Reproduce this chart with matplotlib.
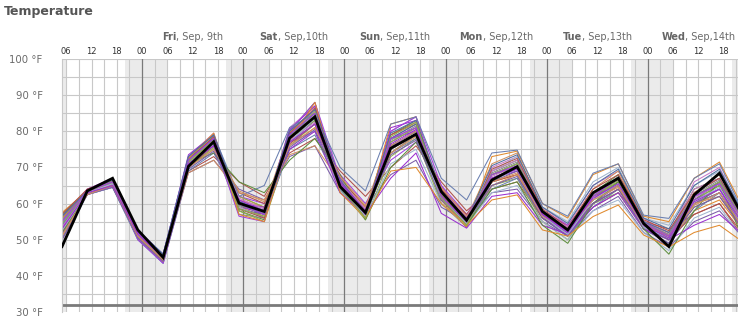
import matplotlib
matplotlib.use("Agg")
import matplotlib.pyplot as plt
import matplotlib.transforms as mtransforms
from matplotlib.offsetbox import TextArea, HPacker, AnnotationBbox

# Forecast hours counted from Thu Sep 8, 00:00 local time (6-hourly runs)
hours = [5 + 6 * k for k in range(28)]

# Main (bold) forecast line, °F
main_run = [48.1, 63.5, 67.0, 52.7, 45.1, 70.3, 77.1, 60.1, 57.8, 78.1, 84.0, 64.7, 57.5, 75.3,
            79.2, 63.3, 55.4, 66.5, 70.2, 57.8, 52.7, 63.0, 67.0, 54.5, 48.1, 62.4, 68.4, 55.6]

# Ensemble members, °F
members = [
    [56, 63.5, 66, 51, 44.5, 72, 78, 59, 56, 79, 86, 65, 56, 78, 82, 62, 54, 67, 69, 56, 51, 61, 66, 54, 50, 62, 65, 54],
    [54, 63, 65.5, 51.5, 45, 71, 76, 61, 58, 77, 83, 66, 57, 76, 80, 63, 55, 68, 71, 57, 52, 60, 64, 55, 51, 60, 63, 53],
    [57, 63.5, 66.5, 50.5, 44, 72.5, 79, 58, 55.5, 80, 88, 64, 56, 79, 83, 61, 53.5, 69, 72, 58, 53, 63, 68, 55, 52, 64, 67, 55],
    [52, 62.5, 65, 52, 45.5, 70, 75, 62, 59, 76, 81, 67, 58, 74, 79, 64, 56, 66, 68, 57, 54, 62, 65, 54, 50, 58, 61, 52],
    [50, 63, 65, 51, 44, 69, 73, 66, 62, 74, 78, 69, 62, 70, 76, 66, 58, 64, 66, 56, 52, 59, 63, 55, 53, 57, 60, 51],
    [55, 64, 66.5, 52.5, 46, 73, 79.5, 60, 57, 81, 87, 66, 57, 80, 84, 62, 54, 70, 73, 59, 54, 65, 69, 56, 51, 66, 70, 56],
    [53, 63, 65.5, 51, 44.5, 70.5, 77, 57, 56, 78, 84, 65, 56, 77, 81, 60, 53.5, 66, 70, 58, 52, 61, 66, 53, 49, 63, 67, 54],
    [51, 62.5, 64.5, 50.5, 43.5, 68.5, 72, 64, 61, 73, 76, 63, 59, 68, 72, 59, 55, 63, 64, 55, 51, 58, 62, 52, 48, 55, 58, 50],
    [56.5, 63.5, 66, 52, 45, 71.5, 78, 59.5, 57, 79, 85, 64, 56, 78, 80, 62, 55, 67, 70, 57, 53, 63, 67, 54, 51, 61, 66, 55],
    [54.5, 63, 66, 51.5, 45, 72, 77.5, 60.5, 58.5, 78.5, 84, 66, 58, 75, 79, 63, 56, 69, 73, 59, 55, 66, 70, 56, 54, 65, 69, 57],
    [52.5, 63, 65, 50, 44, 70, 75.5, 58, 55, 76, 82, 64, 55.5, 73, 78, 60, 54, 65, 67, 55, 50, 60, 63, 53, 50, 59, 62, 53],
    [55.5, 63.5, 66.5, 52, 45.5, 72.5, 78.5, 61, 59, 80, 86, 67, 59, 79, 82, 64, 56, 71, 74, 58, 53, 64, 69, 55, 52, 63, 68, 56],
    [53.5, 62.5, 65, 51, 44.5, 71, 76.5, 62, 60, 77, 80, 68, 60, 72, 77, 65, 57, 67, 69, 58, 54, 62, 65, 54, 50, 60, 64, 54],
    [56, 64, 67, 52.5, 46, 73.5, 79, 59, 57.5, 80.5, 87, 65, 57, 81, 83, 61, 54, 68, 71, 57, 52, 61, 67, 55, 51, 62, 66, 55],
    [50.5, 62.5, 64.5, 50, 43.5, 69, 74, 61, 56, 75, 79, 64, 57, 74, 78, 62, 55, 64, 67, 56, 51, 59, 64, 53, 49, 58, 63, 52],
    [54, 63, 65.5, 51, 44.5, 71, 77, 60, 58, 78, 83, 66, 57.5, 76, 80, 63, 55.5, 68, 70, 57, 52, 62, 66, 54, 51, 61, 65, 54],
    [57.5, 63.5, 66.5, 51.5, 45.5, 72, 78, 59, 56.5, 79.5, 85, 65, 56.5, 82, 84, 61, 53.5, 73, 74.5, 60, 56, 68, 71, 56.5, 55, 67, 71.5, 58],
    [52, 62.5, 65, 50.5, 44, 70, 76, 63, 60, 76.5, 82, 67, 59, 75, 79, 64, 57, 66, 68, 56, 52, 60, 64, 54, 50, 57, 60, 50],
    [55, 63.5, 66, 52, 45, 72, 78, 61, 58, 79, 84, 66, 58, 77, 81, 63, 55, 69, 72, 58, 53, 62, 67, 55, 52, 64, 67, 55],
    [53, 63, 65.5, 51.5, 44.5, 70.5, 76, 60, 57, 77, 82, 65, 57, 74, 79, 62, 55, 67, 70, 57, 52, 61, 65, 54, 50, 60, 64, 53],
    [51.5, 63, 65, 51, 45, 71, 77, 58.5, 57, 78, 84, 65, 56, 76, 80, 61, 54.5, 66, 69, 56, 51, 60, 65, 53, 49, 60, 63, 52],
    [56, 63.5, 66, 52, 45.5, 72.5, 78, 60, 58, 79, 85, 66, 58, 78, 82, 63, 55, 68, 71, 58, 53, 63, 67, 55, 52, 62, 66, 55],
    [49, 62.5, 64.5, 50.5, 44, 69.5, 75, 59, 56, 76, 80, 63.5, 56, 71, 75, 60, 54, 63, 65, 55, 50, 58, 61, 52, 47, 56, 59, 50],
    [54, 63, 65.5, 52, 45, 71.5, 77.5, 62, 59, 78, 83, 67, 58, 77, 81, 63, 56, 68, 71, 57.5, 53, 62, 66, 54.5, 51, 61, 65, 54],
    [51, 63, 65, 51.5, 45, 68.5, 72, 63, 61, 73.5, 76, 66, 59, 76, 80, 62, 55, 65, 68, 57, 53, 61, 65, 54, 51, 60, 62, 52],
    [55, 63.5, 66, 50, 43.5, 70, 77, 56.5, 55, 80, 88, 67, 56, 80, 84, 65, 55, 67, 70, 57, 52, 62, 67, 54, 48, 61, 64, 52],
    [53, 63, 65.5, 51, 44.5, 71, 76, 60, 59, 75, 80, 63, 57, 67, 74, 57.3, 53.2, 62, 63, 54, 51.5, 59, 63, 53, 50, 54, 57, 51],
    [54, 63.5, 66, 52.5, 46, 73, 79, 62, 65, 81, 85, 70, 63.5, 82, 84, 67, 61, 74, 74.8, 60, 56.5, 68.4, 71, 56.8, 55.9, 67, 71, 57],
    [52, 63, 65.5, 52, 45.5, 71, 74, 66, 63, 72, 78, 68, 55.5, 70, 77, 63, 54, 64, 66, 54, 49, 60, 66, 53, 46, 58, 66, 49],
    [56, 63.5, 66, 51, 44, 72.5, 79.5, 57, 55, 77, 88, 63, 56, 69, 70, 60, 54, 61, 62.4, 52.7, 51, 56.4, 59.6, 51.3, 48, 52, 54, 49],
    [57, 64, 66.5, 51, 44.5, 72, 78.5, 58.5, 56, 79.5, 86.5, 65.5, 57, 79, 82.5, 62.5, 54.5, 69.5, 72.5, 58.5, 53.5, 64, 68, 55.5, 52.5, 63, 67, 55],
    [53.5, 63, 65.5, 51, 44.5, 70.5, 76.5, 61.5, 58.5, 77.5, 82.5, 66.5, 58.5, 75.5, 80.5, 63.5, 56.5, 67.5, 70.5, 57.5, 53.5, 62.5, 66.5, 54.5, 51.5, 61.5, 65.5, 54],
    [55.5, 63.5, 66, 52, 45.5, 72, 77.5, 59.5, 57.5, 78.5, 84.5, 65.5, 57.5, 77.5, 81.5, 62.5, 55.5, 68.5, 71.5, 57.5, 52.5, 62.5, 67.5, 54.5, 51.5, 62.5, 66.5, 55],
    [50, 62.5, 64.5, 50.5, 44, 69.5, 74.5, 60.5, 57.5, 75.5, 80.5, 64.5, 57.5, 73.5, 77.5, 61.5, 55, 65, 67.5, 56.5, 51.5, 60, 64, 53.5, 50, 59, 62, 52],
    [56.5, 63.5, 66.5, 52.5, 46, 73, 79, 60.5, 58, 80, 86, 66.5, 57.5, 79.5, 83, 63.5, 55.5, 70.5, 73.5, 59, 54.5, 65, 69.5, 56, 53, 65, 69.5, 56.5],
    [52.5, 63, 65.5, 51.5, 45, 71, 76.5, 60, 57.5, 77, 83.5, 65, 56.5, 75, 79.5, 61.5, 54.5, 66.5, 69.5, 56.5, 51.5, 61, 65.5, 53.5, 50.5, 60.5, 64.5, 53],
    [54.5, 63.5, 66, 51, 44.5, 71.5, 77.5, 58.5, 56.5, 78.5, 85.5, 64.5, 56, 78.5, 82.5, 61.5, 54, 68, 71, 57.5, 52.5, 62, 66.5, 54.5, 51, 62, 66, 54.5],
    [51, 62.5, 65, 51, 44.5, 70, 75, 63.5, 60.5, 76, 81, 67.5, 59.5, 74, 78.5, 64.5, 56.5, 66, 68.5, 56.5, 53, 61, 64.5, 54, 51, 59.5, 63, 52.5],
    [55, 63.5, 66, 52, 45, 72, 78, 60, 57, 79, 85, 65.5, 57, 78, 81, 62, 55, 68, 70.5, 57, 52, 62, 67, 54.5, 51, 62, 65.5, 54.5],
    [53, 63, 65, 51.5, 45, 71, 76, 61, 58, 77, 82, 66, 58, 76.5, 80.5, 63, 56, 67, 69.5, 57, 52.5, 61.5, 65.5, 54, 50.5, 60.5, 64, 53.5],
]

member_colors = ['#9b30d0', '#6a7fb0', '#5f8f3e', '#e08a2e', '#b0504a', '#c678c6',
                 '#8a8a8a', '#7a5ca8', '#4f6fa0', '#a0b5cf', '#8fae4f', '#d09060', '#a040e0']

hour_labels = ['06', '12', '18', '00']
day_names = ['Fri', 'Sat', 'Sun', 'Mon', 'Tue', 'Wed']
day_rest = [', Sep, 9th', ', Sep,10th', ', Sep,11th', ', Sep,12th', ', Sep,13th', ', Sep,14th']
y_ticks = [30, 40, 50, 60, 70, 80, 90, 100]

X_MIN, X_MAX = 5, 165.4

fig = plt.figure(figsize=(7.38, 3.24), dpi=100)
ax = fig.add_axes([62 / 738, 12 / 324, 676 / 738, 253 / 324])
ax.set_xlim(X_MIN, X_MAX)
ax.set_ylim(30, 100)

# night shading (20:00 - 06:00)
ax.axvspan(X_MIN, 6, color='#ebebeb', lw=0, zorder=0)
for d in range(7):
    ax.axvspan(20 + 24 * d, min(30 + 24 * d, X_MAX), color='#ebebeb', lw=0, zorder=0)

# grid
for y in range(35, 101, 5):
    ax.axhline(y, color='#c8c8c8', lw=0.8, zorder=1)
h = 6
while h < X_MAX:
    if h % 24 == 0:
        ax.axvline(h, color='#7a7a7a', lw=0.9, zorder=1.1)
    else:
        ax.axvline(h, color='#c8c8c8', lw=0.8, zorder=1)
    h += 3

# freezing line
ax.axhline(32, color='#7a7a7a', lw=2.0, zorder=1.2)

for i, m in enumerate(members):
    ax.plot(hours, m, color=member_colors[i % len(member_colors)], lw=0.75, zorder=2)
ax.plot(hours, main_run, color='black', lw=2.0, zorder=3, solid_joinstyle='miter')

for s in ax.spines.values():
    s.set_visible(False)
ax.spines['left'].set_visible(True)
ax.spines['left'].set_color('#c8c8c8')
ax.spines['left'].set_linewidth(0.8)

ax.set_yticks(y_ticks)
ax.set_yticklabels([f'{v} °F' for v in y_ticks], fontsize=7.3, color='#6a6a6a')
ax.tick_params(axis='y', length=0, pad=14)

hour_ticks = list(range(6, 163, 6))
ax.set_xticks(hour_ticks)
ax.set_xticklabels([hour_labels[i % 4] for i in range(len(hour_ticks))], fontsize=6, color='#333333')
ax.tick_params(axis='x', length=0, top=True, bottom=False, labeltop=True, labelbottom=False, pad=2.5)

trans = mtransforms.blended_transform_factory(ax.transData, ax.transAxes)
for d in range(6):
    noon = 24 * (d + 1) + 12
    box = HPacker(children=[
        TextArea(day_names[d], textprops=dict(fontsize=7, fontweight='bold', color='#666666')),
        TextArea(day_rest[d], textprops=dict(fontsize=7, color='#6a6a6a')),
    ], align='baseline', pad=0, sep=0)
    ab = AnnotationBbox(box, (noon, 1.0), xycoords=trans, xybox=(0, 15.5), boxcoords='offset points',
                        frameon=False, box_alignment=(0.5, 0.5), annotation_clip=False)
    ax.add_artist(ab)

fig.text(4 / 738, 1 - 12 / 324, 'Temperature', fontsize=9, fontweight='bold', color='#555555',
         ha='left', va='center')

fig.savefig('out.png', dpi=100)
